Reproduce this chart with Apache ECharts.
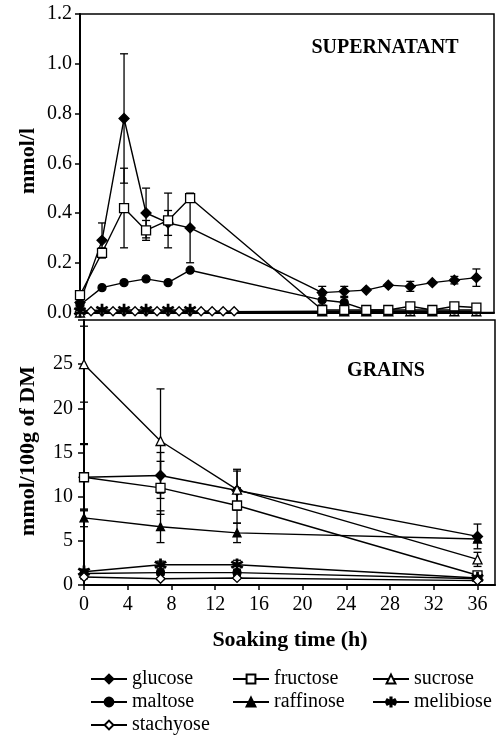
<!DOCTYPE html>
<html><head><meta charset="utf-8">
<script src="https://cdn.jsdelivr.net/npm/echarts@6/dist/echarts.min.js"></script>
<style>html,body{margin:0;padding:0;background:#fff}#c{width:496px;height:736px}</style>
</head><body><div id="c"></div>
<script>
// ---------- DATA ----------
// Supernatant (top panel), mmol/l
var supTime = [0, 2, 4, 6, 8, 10, 22, 24, 26, 28, 30, 32, 34, 36];
var supGlucose = [0.04, 0.29, 0.78, 0.40, 0.36, 0.34, 0.08, 0.085, 0.09, 0.11, 0.105, 0.12, 0.13, 0.14];
var supGlucoseErr = [0, 0.07, 0.26, 0.10, 0.05, 0.14, 0.025, 0.02, 0, 0, 0.02, 0, 0.015, 0.035];
var supFructose = [0.07, 0.24, 0.42, 0.33, 0.37, 0.46, 0.01, 0.01, 0.01, 0.01, 0.025, 0.01, 0.025, 0.02];
var supFructoseErr = [0, 0.02, 0.16, 0.04, 0.11, 0, 0, 0, 0, 0, 0, 0, 0, 0];
var supMaltose = [0.03, 0.10, 0.12, 0.135, 0.12, 0.17, 0.05, 0.04, 0.01, 0.01, 0.01, 0.01, 0.01, 0.01];
var supMaltoseErr = [0, 0, 0, 0, 0, 0, 0.02, 0.02, 0, 0, 0, 0, 0, 0];
var supSucroseTime = [0, 22, 24, 26, 28, 30, 32, 34, 36];
var supSucrose = [0.0, 0.005, 0.005, 0.005, 0.005, 0.005, 0.005, 0.005, 0.005];
var supMelibioseTime = [0, 2, 4, 6, 8, 10];
var supMelibiose = [0.005, 0.01, 0.01, 0.01, 0.01, 0.01];
var supStachyoseTime = [0, 1, 2, 3, 4, 5, 6, 7, 8, 9, 10, 11, 12, 13, 14];
var supStachyose = [0.005, 0.005, 0.005, 0.005, 0.005, 0.005, 0.005, 0.005, 0.005, 0.005, 0.005, 0.005, 0.005, 0.005, 0.005];

// Grains (bottom panel), mmol/100g of DM
var grainTime = [0, 7, 14, 36];
var grGlucose = [12.2, 12.4, 10.7, 5.5];
var grGlucoseErr = [3.7, 2.6, 2.2, 1.4];
var grFructose = [12.2, 11.0, 9.0, 1.1];
var grFructoseErr = [3.8, 3.0, 2.0, 0.4];
var grSucrose = [25.0, 16.3, 10.8, 2.9];
var grSucroseErr = [4.3, 5.9, 2.3, 0.8];
var grMaltose = [1.3, 1.4, 1.4, 0.7];
var grMaltoseErr = [0.2, 0.3, 0.3, 0.2];
var grRaffinose = [7.6, 6.6, 5.9, 5.2];
var grRaffinoseErr = [1.0, 1.8, 1.1, 0.3];
var grMelibiose = [1.5, 2.3, 2.3, 0.8];
var grMelibioseErr = [0.3, 0.4, 0.5, 0.2];
var grStachyose = [0.9, 0.7, 0.8, 0.5];
var grStachyoseErr = [0.2, 0.1, 0.1, 0.1];

var names = ['glucose', 'fructose', 'sucrose', 'maltose', 'raffinose', 'melibiose', 'stachyose'];
var supTicks = [0, 0.2, 0.4, 0.6, 0.8, 1.0, 1.2];
var grainTicks = [0, 5, 10, 15, 20, 25];
var timeTicks = [0, 4, 8, 12, 16, 20, 24, 28, 32, 36];

// ---------- STYLE ----------
var FONT = '"Liberation Serif", "Times New Roman", serif';
var ASTERISK = 'path://M8.8,0 L11.2,0 L11.2,20 L8.8,20 Z M1.94,3.96 L19.26,13.96 L18.06,16.04 L0.74,6.04 Z M0.74,13.96 L18.06,3.96 L19.26,6.04 L1.94,16.04 Z';
var markers = {
  glucose:   {symbol: 'diamond', filled: true, size: 10},
  fructose:  {symbol: 'rect', filled: false, size: 9},
  sucrose:   {symbol: 'triangle', filled: false, size: 9},
  maltose:   {symbol: 'circle', filled: true, size: 8},
  raffinose: {symbol: 'triangle', filled: true, size: 8},
  melibiose: {symbol: ASTERISK, filled: true, size: 11},
  stachyose: {symbol: 'diamond', filled: false, size: 9}
};

function lineSeries(name, idx, times, vals) {
  var m = markers[name];
  return {
    name: name, type: 'line', xAxisIndex: idx, yAxisIndex: idx,
    data: times.map(function (t, i) { return [t, vals[i]]; }),
    symbol: m.symbol, symbolSize: m.size, showSymbol: true, showAllSymbol: true,
    clip: false, z: 3, animation: false,
    lineStyle: {color: '#000', width: 1.4},
    itemStyle: {color: m.filled ? '#000' : '#fff', borderColor: '#000', borderWidth: 1.3}
  };
}
function errSeries(idx, times, vals, errs) {
  var d = [];
  times.forEach(function (t, i) { if (errs[i] > 0) d.push([t, vals[i], errs[i]]); });
  return {
    type: 'custom', xAxisIndex: idx, yAxisIndex: idx, data: d, z: 2, silent: true, clip: false,
    encode: {x: 0, y: 1},
    renderItem: function (params, api) {
      var x = api.value(0), y = api.value(1), e = api.value(2);
      var hi = api.coord([x, y + e]);
      var lo = api.coord([x, Math.max(y - e, 0)]);
      var w = 4, st = {stroke: '#000', lineWidth: 1.3};
      return {type: 'group', children: [
        {type: 'line', shape: {x1: hi[0], y1: hi[1], x2: lo[0], y2: lo[1]}, style: st},
        {type: 'line', shape: {x1: hi[0] - w, y1: hi[1], x2: hi[0] + w, y2: hi[1]}, style: st},
        {type: 'line', shape: {x1: lo[0] - w, y1: lo[1], x2: lo[0] + w, y2: lo[1]}, style: st}
      ]};
    }
  };
}

var series = [
  errSeries(0, supTime, supGlucose, supGlucoseErr),
  errSeries(0, supTime, supFructose, supFructoseErr),
  errSeries(0, supTime, supMaltose, supMaltoseErr),
  lineSeries('stachyose', 0, supStachyoseTime, supStachyose),
  lineSeries('sucrose', 0, supSucroseTime, supSucrose),
  lineSeries('melibiose', 0, supMelibioseTime, supMelibiose),
  lineSeries('maltose', 0, supTime, supMaltose),
  lineSeries('glucose', 0, supTime, supGlucose),
  lineSeries('fructose', 0, supTime, supFructose),

  errSeries(1, grainTime, grGlucose, grGlucoseErr),
  errSeries(1, grainTime, grFructose, grFructoseErr),
  errSeries(1, grainTime, grSucrose, grSucroseErr),
  errSeries(1, grainTime, grMaltose, grMaltoseErr),
  errSeries(1, grainTime, grRaffinose, grRaffinoseErr),
  errSeries(1, grainTime, grMelibiose, grMelibioseErr),
  errSeries(1, grainTime, grStachyose, grStachyoseErr),
  lineSeries('glucose', 1, grainTime, grGlucose),
  lineSeries('fructose', 1, grainTime, grFructose),
  lineSeries('sucrose', 1, grainTime, grSucrose),
  lineSeries('maltose', 1, grainTime, grMaltose),
  lineSeries('raffinose', 1, grainTime, grRaffinose),
  lineSeries('melibiose', 1, grainTime, grMelibiose),
  lineSeries('stachyose', 1, grainTime, grStachyose)
];

var legendPos = [[90, 669], [232, 669], [372, 669], [90, 692], [232, 692], [372, 692], [90, 715]];
var legends = names.map(function (n, i) {
  return {
    data: [n], left: legendPos[i][0], top: legendPos[i][1], padding: 0,
    itemWidth: 36, itemHeight: 11, selectedMode: false,
    textStyle: {fontFamily: FONT, fontSize: 20, color: '#000'}
  };
});

var axisLine = {show: true, lineStyle: {color: '#000', width: 2}};
var option = {
  backgroundColor: '#fff',
  animation: false,
  grid: [
    {left: 80, top: 14, width: 414, height: 298.5, show: true, borderColor: '#000', borderWidth: 1.5, containLabel: false},
    {left: 84, top: 320, width: 411, height: 265, show: true, borderColor: '#000', borderWidth: 1.5, containLabel: false}
  ],
  xAxis: [
    {gridIndex: 0, type: 'value', min: 0, max: 37.6, interval: 4,
     axisLine: axisLine, axisTick: {show: false}, axisLabel: {show: false}, splitLine: {show: false}},
    {gridIndex: 1, type: 'value', min: 0, max: 37.6, interval: 4,
     axisLine: axisLine, splitLine: {show: false},
     axisTick: {show: true, inside: false, length: 5, lineStyle: {color: '#000', width: 1.5},
       customValues: timeTicks},
     axisLabel: {margin: 10, fontFamily: FONT, fontSize: 20, color: '#000',
       customValues: timeTicks,
       formatter: function (v) { return timeTicks.indexOf(v) >= 0 ? String(v) : ''; }}}
  ],
  yAxis: [
    {gridIndex: 0, type: 'value', min: 0, max: 1.2, interval: 0.2,
     axisLine: axisLine, splitLine: {show: false},
     axisTick: {show: true, inside: false, length: 5, lineStyle: {color: '#000', width: 1.5}},
     axisLabel: {margin: 8, fontFamily: FONT, fontSize: 20, color: '#000',
       customValues: supTicks,
       formatter: function (v) { return v.toFixed(1); }}},
    {gridIndex: 1, type: 'value', min: 0, max: 30, interval: 5,
     axisLine: axisLine, splitLine: {show: false},
     axisTick: {show: true, inside: false, length: 6, lineStyle: {color: '#000', width: 1.5}},
     axisLabel: {margin: 11, fontFamily: FONT, fontSize: 20, color: '#000',
       customValues: grainTicks,
       formatter: function (v) { return grainTicks.indexOf(v) >= 0 ? String(v) : ''; }}}
  ],
  legend: legends,
  graphic: [
    {type: 'text', x: 28, y: 161, rotation: Math.PI / 2,
     style: {text: 'mmol/l', font: 'bold 22px ' + FONT, fill: '#000', textAlign: 'center', textVerticalAlign: 'middle'}},
    {type: 'text', x: 28, y: 451, rotation: Math.PI / 2,
     style: {text: 'mmol/100g of DM', font: 'bold 22px ' + FONT, fill: '#000', textAlign: 'center', textVerticalAlign: 'middle'}},
    {type: 'text', x: 290, y: 640,
     style: {text: 'Soaking time (h)', font: 'bold 22px ' + FONT, fill: '#000', textAlign: 'center', textVerticalAlign: 'middle'}},
    {type: 'text', x: 385, y: 48,
     style: {text: 'SUPERNATANT', font: 'bold 20px ' + FONT, fill: '#000', textAlign: 'center', textVerticalAlign: 'middle'}},
    {type: 'text', x: 386, y: 371,
     style: {text: 'GRAINS', font: 'bold 20px ' + FONT, fill: '#000', textAlign: 'center', textVerticalAlign: 'middle'}}
  ],
  series: series
};
var chart = echarts.init(document.getElementById('c'), null, {renderer: 'canvas'});
chart.setOption(option);
</script></body></html>
